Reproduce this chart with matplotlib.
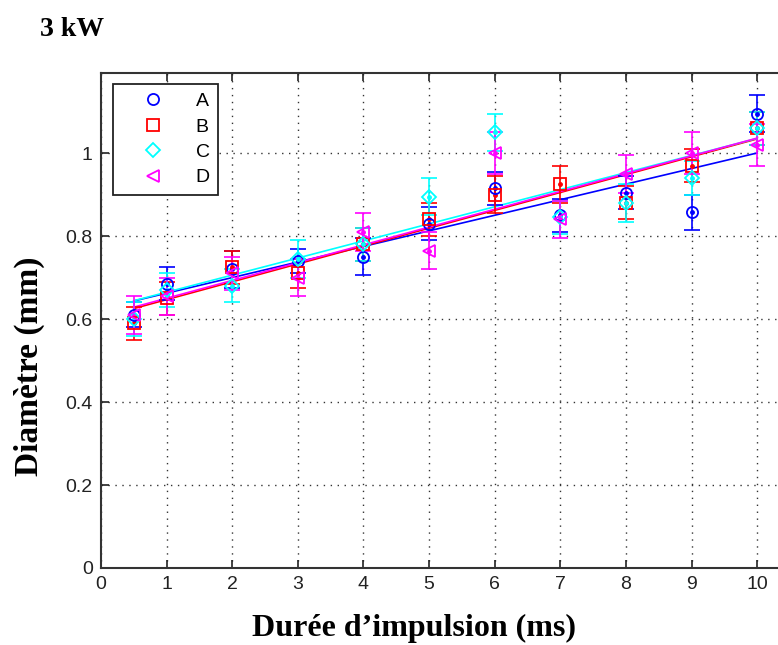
import numpy as np
import matplotlib.pyplot as plt
from matplotlib.lines import Line2D

# pulse durations (ms)
duree = [0.5, 1, 2, 3, 4, 5, 6, 7, 8, 9, 10]

# measured diameters (mm)
diam_a = [0.61, 0.685, 0.72, 0.74, 0.75, 0.83, 0.915, 0.85, 0.905, 0.857, 1.095]
diam_b = [0.59, 0.65, 0.725, 0.71, 0.78, 0.84, 0.90, 0.925, 0.88, 0.97, 1.06]
diam_c = [0.60, 0.67, 0.68, 0.745, 0.78, 0.895, 1.05, 0.845, 0.88, 0.94, 1.06]
diam_d = [0.61, 0.655, 0.71, 0.70, 0.81, 0.765, 1.00, 0.84, 0.95, 1.00, 1.02]

# error bars (mm)
err_a = [0.03, 0.04, 0.045, 0.03, 0.045, 0.04, 0.04, 0.04, 0.04, 0.042, 0.045]
err_b = [0.04, 0.04, 0.04, 0.035, 0.04, 0.04, 0.045, 0.045, 0.04, 0.04, 0.04]
err_c = [0.04, 0.04, 0.04, 0.045, 0.04, 0.045, 0.045, 0.04, 0.045, 0.04, 0.04]
err_d = [0.045, 0.045, 0.04, 0.045, 0.045, 0.045, 0.05, 0.045, 0.045, 0.05, 0.05]

labels = ["A", "B", "C", "D"]
series = [diam_a, diam_b, diam_c, diam_d]
errors = [err_a, err_b, err_c, err_d]
colors = ["#0000ff", "#ff0000", "#00ffff", "#ff00ff"]
markers = ["o", "s", "D", "<"]
msizes = [8, 8, 7, 8]

plt.rcParams["font.family"] = ["Liberation Sans Narrow", "Liberation Sans", "DejaVu Sans"]

fig = plt.figure(figsize=(7.78, 6.45), dpi=100)
ax = fig.add_axes([0.1298, 0.1194, 0.8856, 0.7674])

x = np.array(duree)
for y, e, c, m, ms in zip(series, errors, colors, markers, msizes):
    y = np.array(y)
    ax.errorbar(x, y, yerr=e, fmt=".", color=c, ms=5, elinewidth=1.2,
                capsize=6, capthick=1.2, zorder=3)
    ax.plot(x, y, linestyle="none", marker=m, ms=ms, mfc="none", mec=c,
            mew=1.3, zorder=4)
    k, b = np.polyfit(x, y, 1)
    ax.plot([x[0], x[-1]], [k * x[0] + b, k * x[-1] + b], color=c, lw=1.2, zorder=2)

ax.set_xlim(0, 10.5)
ax.set_ylim(0, 1.193)
ax.set_xticks(range(0, 11))
ax.set_yticks([0, 0.2, 0.4, 0.6, 0.8, 1])
ax.set_yticklabels(["0", "0.2", "0.4", "0.6", "0.8", "1"])
ax.grid(True, linestyle=(0, (1, 4)), color="#333333", linewidth=1.0)
ax.tick_params(direction="in", top=True, right=True, labelsize=14, length=6,
               width=1.2, colors="#222222", pad=6)
for s in ax.spines.values():
    s.set_linewidth(1.5)
    s.set_color("#333333")

handles = [Line2D([], [], linestyle="none", marker=m, ms=ms, mfc="none", mec=c, mew=1.3)
           for m, ms, c in zip(markers, msizes, colors)]
leg = ax.legend(handles, labels, loc="upper left", bbox_to_anchor=(0.0174, 0.978),
                borderaxespad=0, handlelength=3.2, handletextpad=0.6, fontsize=14,
                fancybox=False, framealpha=1, edgecolor="#222222", borderpad=0.45,
                labelspacing=0.4)
leg.get_frame().set_linewidth(1.3)

fig.text(0.051, 0.955, "3 kW", family="Liberation Serif", weight="bold", fontsize=20,
         ha="left", va="center")
ax.set_xlabel("Durée d’impulsion (ms)", family="Liberation Serif", weight="bold",
              fontsize=23)
ax.xaxis.set_label_coords(0.454, -0.093)
ax.set_ylabel("Diamètre (mm)", family="Liberation Serif", weight="bold",
              fontsize=24)
ax.yaxis.set_label_coords(-0.081, 0.408)

fig.savefig("out.png", dpi=100)
